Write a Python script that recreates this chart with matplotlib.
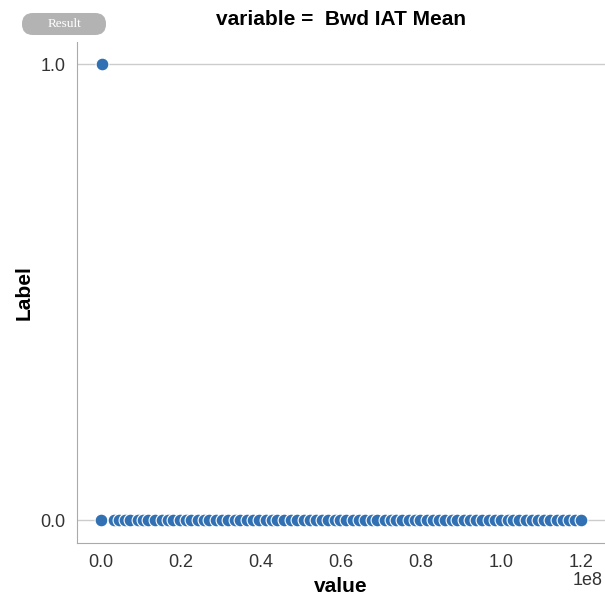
import matplotlib.pyplot as plt
from matplotlib.patches import FancyBboxPatch

# values in units of 1e8
vals0 = [0.00, 0.032, 0.045, 0.061, 0.074, 0.092, 0.105, 0.118, 0.135, 0.152, 0.168,
         0.181, 0.197, 0.214, 0.226, 0.243, 0.258, 0.271, 0.289, 0.302, 0.318, 0.335,
         0.349, 0.366, 0.381, 0.395, 0.412, 0.428, 0.441, 0.459, 0.476, 0.49, 0.507,
         0.522, 0.538, 0.553, 0.567, 0.584, 0.598, 0.613, 0.631, 0.646, 0.659, 0.677,
         0.69, 0.709, 0.724, 0.737, 0.752, 0.769, 0.785, 0.798, 0.815, 0.83, 0.846,
         0.861, 0.878, 0.891, 0.907, 0.923, 0.938, 0.953, 0.969, 0.984, 1.001, 1.017,
         1.03, 1.046, 1.062, 1.077, 1.093, 1.108, 1.122, 1.139, 1.154, 1.17, 1.186, 1.199]
vals1 = [0.002]

x = [v * 1e8 for v in vals0 + vals1]
y = [0] * len(vals0) + [1] * len(vals1)

plt.rcParams['font.family'] = ['Liberation Sans', 'DejaVu Sans']

fig = plt.figure(figsize=(6.05, 5.95), dpi=100)
ax = fig.add_axes([0.127, 0.087, 0.873, 0.843])

ax.scatter(x, y, s=85, color='#3070b3', edgecolor='white', linewidth=0.8, zorder=3)

ax.set_ylim(-0.05, 1.05)
ax.set_xlim(-0.06e8, 1.26e8)
ax.set_yticks([0.0, 1.0])
ax.set_yticklabels(['0.0', '1.0'])
ax.set_xticks([0, 0.2e8, 0.4e8, 0.6e8, 0.8e8, 1.0e8, 1.2e8])
ax.set_xticklabels(['0.0', '0.2', '0.4', '0.6', '0.8', '1.0', '1.2'])
ax.text(0.995, -0.058, '1e8', transform=ax.transAxes, ha='right', va='top',
        fontsize=13, color='#333333')
ax.tick_params(length=0, labelsize=13, colors='#333333', pad=8)

ax.yaxis.grid(True, color='#cccccc', linewidth=1)
ax.set_axisbelow(True)
for s in ['top', 'right']:
    ax.spines[s].set_visible(False)
for s in ['left', 'bottom']:
    ax.spines[s].set_color('#aaaaaa')

ax.set_xlabel('value', fontsize=15, fontweight='bold', labelpad=4)
ax.set_ylabel('Label', fontsize=15, fontweight='bold', labelpad=5)
ax.set_title('variable =  Bwd IAT Mean', fontsize=15, fontweight='bold', pad=12)

badge = FancyBboxPatch((22 / 605, 1 - 35 / 595), 84 / 605, 22 / 595,
                       boxstyle='round,pad=0,rounding_size=0.018',
                       transform=fig.transFigure, facecolor='#b3b3b3',
                       edgecolor='none')
fig.patches.append(badge)
fig.text(64 / 605, 1 - 24 / 595, 'Result', ha='center', va='center',
         fontsize=9.5, color='white', family='Liberation Serif')

fig.savefig('out.png', dpi=100)
